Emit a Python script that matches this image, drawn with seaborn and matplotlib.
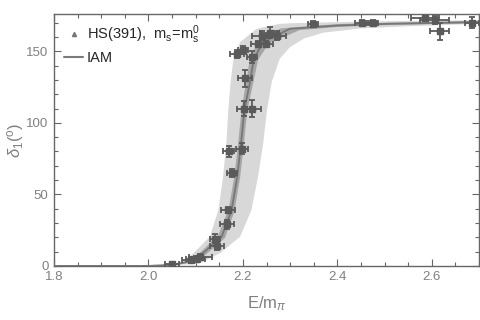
import matplotlib
matplotlib.use("Agg")
import matplotlib.pyplot as plt
import seaborn as sns
import numpy as np
import pandas as pd
from matplotlib.lines import Line2D
from matplotlib.ticker import MultipleLocator

# Lattice data points: energy, phase shift, errors
E_pts = [2.05, 2.09, 2.10, 2.11, 2.141, 2.145, 2.166, 2.168, 2.177, 2.170, 2.198,
         2.202, 2.219, 2.204, 2.187, 2.200, 2.219, 2.232, 2.249, 2.240, 2.257,
         2.272, 2.348, 2.452, 2.475, 2.585, 2.606, 2.617, 2.685]
d_pts = [1.5, 4, 5, 6, 19, 14, 29, 39, 65, 80, 82,
         110, 110, 131, 148, 151, 146, 155, 155, 161, 163,
         161, 169, 170, 170, 173, 172, 164, 170]
E_err = [0.015, 0.02, 0.02, 0.025, 0.01, 0.015, 0.015, 0.015, 0.01, 0.012, 0.012,
         0.015, 0.02, 0.015, 0.015, 0.01, 0.01, 0.015, 0.015, 0.02, 0.02,
         0.02, 0.01, 0.015, 0.012, 0.03, 0.03, 0.02, 0.015]
d_err = [1, 2, 2, 2, 3, 3, 3, 2, 3, 4, 4,
         5, 6, 6, 3, 3, 4, 2, 2, 3, 4,
         3, 2, 2, 2, 2, 3, 6, 4]

# IAM central curve
E_iam = [1.8, 2.0, 2.05, 2.08, 2.115, 2.155, 2.176, 2.188, 2.196, 2.203, 2.215,
         2.223, 2.243, 2.299, 2.4, 2.511, 2.7]
d_iam = [0, 0, 0.8, 2.5, 8.8, 20.4, 39, 62.3, 85.6, 108.8, 128.5,
         144.8, 156.4, 165.7, 168, 169.2, 170.4]

# Outer (light) band edges
E_out_hi = [1.8, 2.0, 2.05, 2.067, 2.095, 2.130, 2.148, 2.158, 2.165, 2.169, 2.174,
            2.180, 2.194, 2.229, 2.278, 2.32, 2.5, 2.7]
d_out_hi = [0, 0.3, 0.8, 1.9, 8.8, 20.4, 39, 62.3, 85.6, 108.8, 128.5,
            144.8, 156.4, 165.7, 169.2, 169.8, 171, 171.8]
E_out_lo = [1.8, 2.0, 2.05, 2.109, 2.151, 2.194, 2.218, 2.232, 2.243, 2.251, 2.261,
            2.278, 2.30, 2.33, 2.37, 2.45, 2.55, 2.7]
d_out_lo = [0, 0, 0.2, 1.9, 8.8, 20.4, 39, 62.3, 85.6, 108.8, 128.5,
            144.8, 153, 159, 163, 166, 167.5, 169.2]

# Inner (darker) band edges
E_in_hi = [1.8, 2.0, 2.05, 2.08, 2.11, 2.148, 2.170, 2.182, 2.190, 2.197, 2.207,
           2.215, 2.232, 2.28, 2.4, 2.51, 2.7]
d_in_hi = [0, 0, 1, 3.2, 9.5, 21.5, 40, 63, 86, 109, 129,
           145, 157, 166, 169, 170, 171.2]
E_in_lo = [1.8, 2.0, 2.05, 2.09, 2.12, 2.162, 2.182, 2.194, 2.202, 2.209, 2.222,
           2.232, 2.255, 2.32, 2.4, 2.51, 2.7]
d_in_lo = [0, 0, 0.5, 2.5, 7.5, 19.5, 38, 61.5, 85, 108, 128,
           144, 155.5, 164.8, 167, 168.4, 169.6]

x_ticks = [1.8, 2.0, 2.2, 2.4, 2.6]
y_ticks = [0, 50, 100, 150]

sns.set_style("ticks")
plt.rcParams['font.family'] = ['Liberation Sans', 'DejaVu Sans']
plt.rcParams['mathtext.fontset'] = 'custom'
plt.rcParams['mathtext.rm'] = 'Liberation Sans'
plt.rcParams['mathtext.it'] = 'Liberation Sans:italic'

fig = plt.figure(figsize=(4.8, 3.2), dpi=100)
ax = fig.add_axes([0.1125, 0.169, 0.8855, 0.787])

ax.fill(np.concatenate([E_out_hi, E_out_lo[::-1]]),
        np.concatenate([d_out_hi, d_out_lo[::-1]]),
        color='#d8d8d8', lw=0, zorder=1)
ax.fill(np.concatenate([E_in_hi, E_in_lo[::-1]]),
        np.concatenate([d_in_hi, d_in_lo[::-1]]),
        color='#a6a6a6', lw=0, zorder=2)

df_iam = pd.DataFrame({'E': E_iam, 'd': d_iam})
sns.lineplot(data=df_iam, x='E', y='d', ax=ax, color='#777777', lw=1.3, zorder=3)

ax.errorbar(E_pts, d_pts, xerr=E_err, yerr=d_err, fmt='s', ms=3.8,
            color='#5a5a5a', ecolor='#5a5a5a', elinewidth=1.3, capsize=2,
            capthick=1.3, zorder=4)

ax.set_xlim(1.8, 2.7)
ax.set_ylim(0, 176)
ax.set_xticks(x_ticks)
ax.set_xticklabels([f"{t:.1f}" for t in x_ticks])
ax.set_yticks(y_ticks)
ax.xaxis.set_minor_locator(MultipleLocator(0.05))
ax.yaxis.set_minor_locator(MultipleLocator(10))
ax.tick_params(which='both', direction='in', top=True, right=True,
               color='#666666', labelcolor='#808080', labelsize=9.5, width=0.8)
ax.tick_params(axis='x', which='major', length=5, pad=4)
ax.tick_params(axis='y', which='major', length=5, pad=4)
ax.tick_params(which='minor', length=3)
for s in ax.spines.values():
    s.set_color('#666666')
    s.set_linewidth(1.0)

ax.set_xlabel(r"E/m$_\pi$", color='#808080', fontsize=12, labelpad=8)
ax.set_ylabel(r"$\delta_1$($^\mathregular{o}$)", color='#808080', fontsize=12)
ax.yaxis.set_label_coords(-0.066, 0.5)

handles = [Line2D([], [], marker='^', ms=3, ls='none', color='#777777'),
           Line2D([], [], color='#7a7a7a', lw=1.5)]
labels = [r"HS(391),  m$_\mathregular{s}$=m$_\mathregular{s}^\mathregular{0}$", "IAM"]
ax.legend(handles, labels, loc='upper left', frameon=False, fontsize=10.5,
          handlelength=1.3, handletextpad=0.25, borderaxespad=0.0,
          bbox_to_anchor=(0.01, 0.985), labelspacing=0.35)

fig.savefig("out.png", dpi=100)
